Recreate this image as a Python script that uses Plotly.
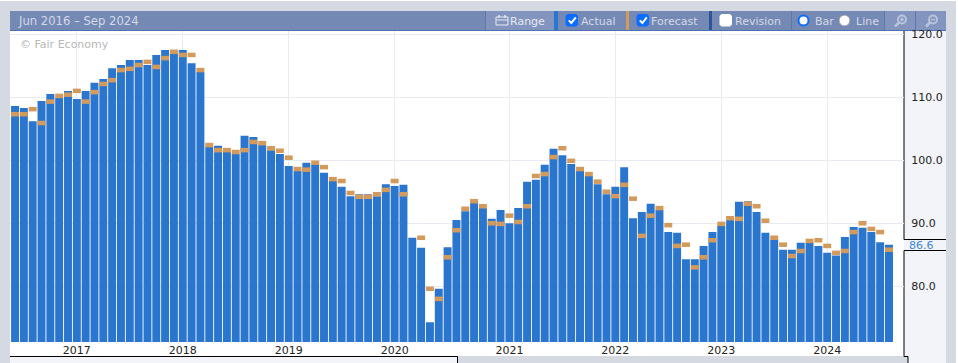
import plotly.graph_objects as go

W, H = 958, 363
L, R, T, B = 10, 904, 31, 342

years = [2016 + (i + 5) // 12 for i in range(45)] + [2020] + [2020 + (i + 2) // 12 for i in range(54)]
actual = [108.6,108.3,106.2,109.4,110.5,109.9,111.0,109.7,111.0,112.3,112.9,114.6,115.1,115.9,115.9,115.1,116.7,117.5,116.9,117.5,
115.4,114.0,102.1,102.3,101.3,101.0,103.9,103.7,102.4,101.6,101.0,99.1,98.3,99.6,99.3,98.0,96.7,95.8,94.3,94.6,
94.6,94.3,96.2,95.9,96.1,87.7,86.1,74.3,79.6,86.2,90.5,91.9,93.2,92.4,90.7,92.1,90.0,92.4,96.6,96.9,
99.3,101.8,100.8,99.4,98.3,97.5,96.2,94.6,95.8,98.9,90.8,91.8,93.1,92.1,88.6,88.5,84.3,84.3,86.4,88.6,
89.6,90.5,93.4,93.5,91.8,88.5,87.4,85.8,85.8,86.9,86.9,86.4,85.3,84.9,87.8,89.4,89.3,88.6,87.0,86.6]
forecast = [107.3,107.3,108.1,105.9,109.3,110.2,110.4,111.0,109.3,110.8,112.1,112.7,114.3,114.5,115.1,115.6,114.8,116.2,117.2,116.7,
116.7,114.3,102.4,101.6,101.6,101.3,101.6,102.9,102.7,101.9,101.5,100.4,98.6,98.5,99.6,98.9,97.0,96.7,94.8,94.2,
94.2,94.6,95.3,96.7,94.6,None,87.7,79.6,78.0,84.6,88.9,92.3,93.5,92.7,90.0,89.9,91.2,90.2,92.7,97.5,
97.8,100.5,101.9,99.9,98.6,97.8,96.6,95.0,94.3,96.1,93.9,88.0,91.2,92.4,89.7,86.4,86.6,83.0,84.6,87.3,
89.9,90.8,90.7,93.1,92.7,90.4,87.7,86.6,84.8,85.6,87.2,87.3,86.4,85.3,85.6,88.6,90.0,89.1,88.6,85.8]
tick_years = [2017, 2018, 2019, 2020, 2021, 2022, 2023, 2024]
y_ticks = [80, 90, 100, 110, 120]
latest = actual[-1]

BLUE, ORANGE = "#2a75cd", "#d39a5c"
HEAD, HEAD_LT, PAGE, PANEL = "#7589b5", "#8395bf", "#d5d9e2", "#f3f4f9"
FONT = "DejaVu Sans"

idx = list(range(len(actual)))
tick_idx = [next(i for i in idx if years[i] == y and (i == 0 or years[i - 1] < y)) for y in tick_years]
fc_idx = [i for i in idx if forecast[i] is not None]

fig = go.Figure()
fig.add_bar(x=idx, y=actual, base=0, marker=dict(color=BLUE, line_width=0), width=0.9, name="Actual")
fig.add_bar(x=fc_idx, y=[0.72] * len(fc_idx), base=[forecast[i] - 0.36 for i in fc_idx],
            marker=dict(color=ORANGE, line_width=0), width=0.9, name="Forecast")

def px(x): return (x - L) / (R - L)
def py(y): return 1 - (y - T) / (B - T)

shapes, notes = [], []
def rect(x0, y0, x1, y1, fill, layer="below"):
    shapes.append(dict(type="rect", xref="paper", yref="paper", x0=px(x0), x1=px(x1), y0=py(y0), y1=py(y1),
                       fillcolor=fill, line=dict(width=0), layer=layer))
def path(points, stroke=None, width=1, fill=None, close=False):
    d = "M " + " L ".join(f"{px(a):.5f} {py(b):.5f}" for a, b in points) + (" Z" if close else "")
    shapes.append(dict(type="path", xref="paper", yref="paper", path=d, layer="below",
                       fillcolor=fill or "rgba(0,0,0,0)", line=dict(color=stroke or "rgba(0,0,0,0)", width=width)))
def circle(x0, y0, x1, y1, fill, stroke, width=1):
    shapes.append(dict(type="circle", xref="paper", yref="paper", x0=px(x0), x1=px(x1), y0=py(y0), y1=py(y1),
                       fillcolor=fill, line=dict(color=stroke, width=width), layer="below"))
def text(x, y, s, color="#d3d9e7", size=11, anchor="left"):
    notes.append(dict(xref="paper", yref="paper", x=px(x), y=py(y), text=s, showarrow=False, xanchor=anchor,
                      yanchor="middle", font=dict(family=FONT, size=size, color=color), borderpad=0, borderwidth=0))
def box(x, y, size, fill):
    r = 2
    path([(x + r, y), (x + size - r, y), (x + size, y + r), (x + size, y + size - r), (x + size - r, y + size),
          (x + r, y + size), (x, y + size - r), (x, y + r)], fill=fill, close=True)
def tick(x, y):
    path([(x + 2.8, y + 6.4), (x + 5.3, y + 9), (x + 9.8, y + 3.3)], stroke="#ffffff", width=2)
def magnifier(x, y, color, plus):
    circle(x + 3, y, x + 11, y + 8, "rgba(0,0,0,0)", color, 2)
    path([(x + 4, y + 7), (x, y + 11)], stroke=color, width=2.5)
    path([(x + 5, y + 4), (x + 9, y + 4)], stroke=color, width=1.5)
    if plus:
        path([(x + 7, y + 2), (x + 7, y + 6)], stroke=color, width=1.5)

# page furniture
rect(956, 0, 958, 363, "#ffffff")
rect(0, 0, 958, 1, "#ffffff")
rect(10, 31, 904, 356, "#ffffff")
rect(10, 357, 457, 363, PANEL)
rect(908, 357, 946, 363, PANEL)
rect(904, 31, 946, 357, PANEL)
path([(904, 31), (904, 239.5), (946, 239.5)], stroke="#000000")
path([(946, 250.5), (904, 250.5), (904, 356.5), (908, 356.5), (908, 363)], stroke="#000000")
path([(10, 356.5), (457.5, 356.5), (457.5, 363)], stroke="#000000")

# header
rect(10, 11, 946, 30, HEAD)
rect(10, 30, 946, 31, "#4f6fae")
rect(485, 11, 554, 30, HEAD_LT)
rect(884, 11, 946, 30, HEAD_LT)
for x in [485, 791, 884, 915]:
    rect(x, 11, x + 1, 30, "#5f76a8")
rect(554, 11, 558, 30, BLUE)
rect(626, 11, 629, 30, ORANGE)
rect(709, 11, 712, 30, "#2f5596")
for x in [565.5, 636.5]:
    box(x, 14, 12.5, "#0b6cff")
    tick(x + 0.5, 14)
box(719.5, 14, 12.5, "#ffffff")
circle(798.5, 15.5, 808.5, 25.5, "#ffffff", "#0b6cff", 2)
circle(839, 15, 850, 26, "#ffffff", "#8a8f9c", 1)
path([(496, 17), (508, 17), (508, 25), (496, 25)], stroke="#e6e9f1", close=True)
path([(496, 20), (508, 20)], stroke="#e6e9f1")
path([(499, 15), (499, 18)], stroke="#e6e9f1", width=1.5)
path([(505, 15), (505, 18)], stroke="#e6e9f1", width=1.5)
magnifier(895, 15.5, "#b9c4dc", True)
magnifier(926, 15.5, "#b9c4dc", False)

text(18, 21, "Jun 2016 – Sep 2024", "#d3d9e7", 11.6)
text(20, 44.5, "© Fair Economy", "#b8b8b8", 11)
text(510, 21, "Range", "#e6e9f1", 11)
text(580.5, 21, "Actual", size=11)
text(651, 21, "Forecast", size=11)
text(734.5, 21, "Revision", size=11)
text(815, 21, "Bar", size=11)
text(856, 21, "Line", size=11)
text(909, 245, f"{latest:.1f}", "#3b86dc", 11)

fig.update_layout(
    width=W, height=H, autosize=False, barmode="overlay", showlegend=False,
    margin=dict(l=L, r=W - R, t=T, b=H - B, pad=0, autoexpand=False), paper_bgcolor=PAGE, plot_bgcolor="rgba(0,0,0,0)",
    font=dict(family=FONT, size=11, color="#222222"), shapes=shapes, annotations=notes,
    xaxis=dict(range=[-0.57, 100.7], tickmode="array", tickvals=tick_idx, ticktext=[str(y) for y in tick_years],
               showgrid=True, gridcolor="#eaeaf2", gridwidth=1, ticks="", zeroline=False, showline=False, automargin=False,
               tickfont=dict(family=FONT, size=11, color="#222222")),
    yaxis=dict(range=[71.16, 120.5], side="right", tickmode="array", tickvals=y_ticks,
               ticktext=[f"{v:.1f}" for v in y_ticks], showgrid=True, gridcolor="#eaeaf2", gridwidth=1,
               ticks="outside", ticklen=4, tickcolor="rgba(0,0,0,0)",
               zeroline=False, showline=False, tickfont=dict(family=FONT, size=11, color="#222222"), automargin=False),
)
fig.write_html("out.html", config={"displayModeBar": False},
               post_script="document.body.style.margin='0';document.body.style.overflow='hidden';")
